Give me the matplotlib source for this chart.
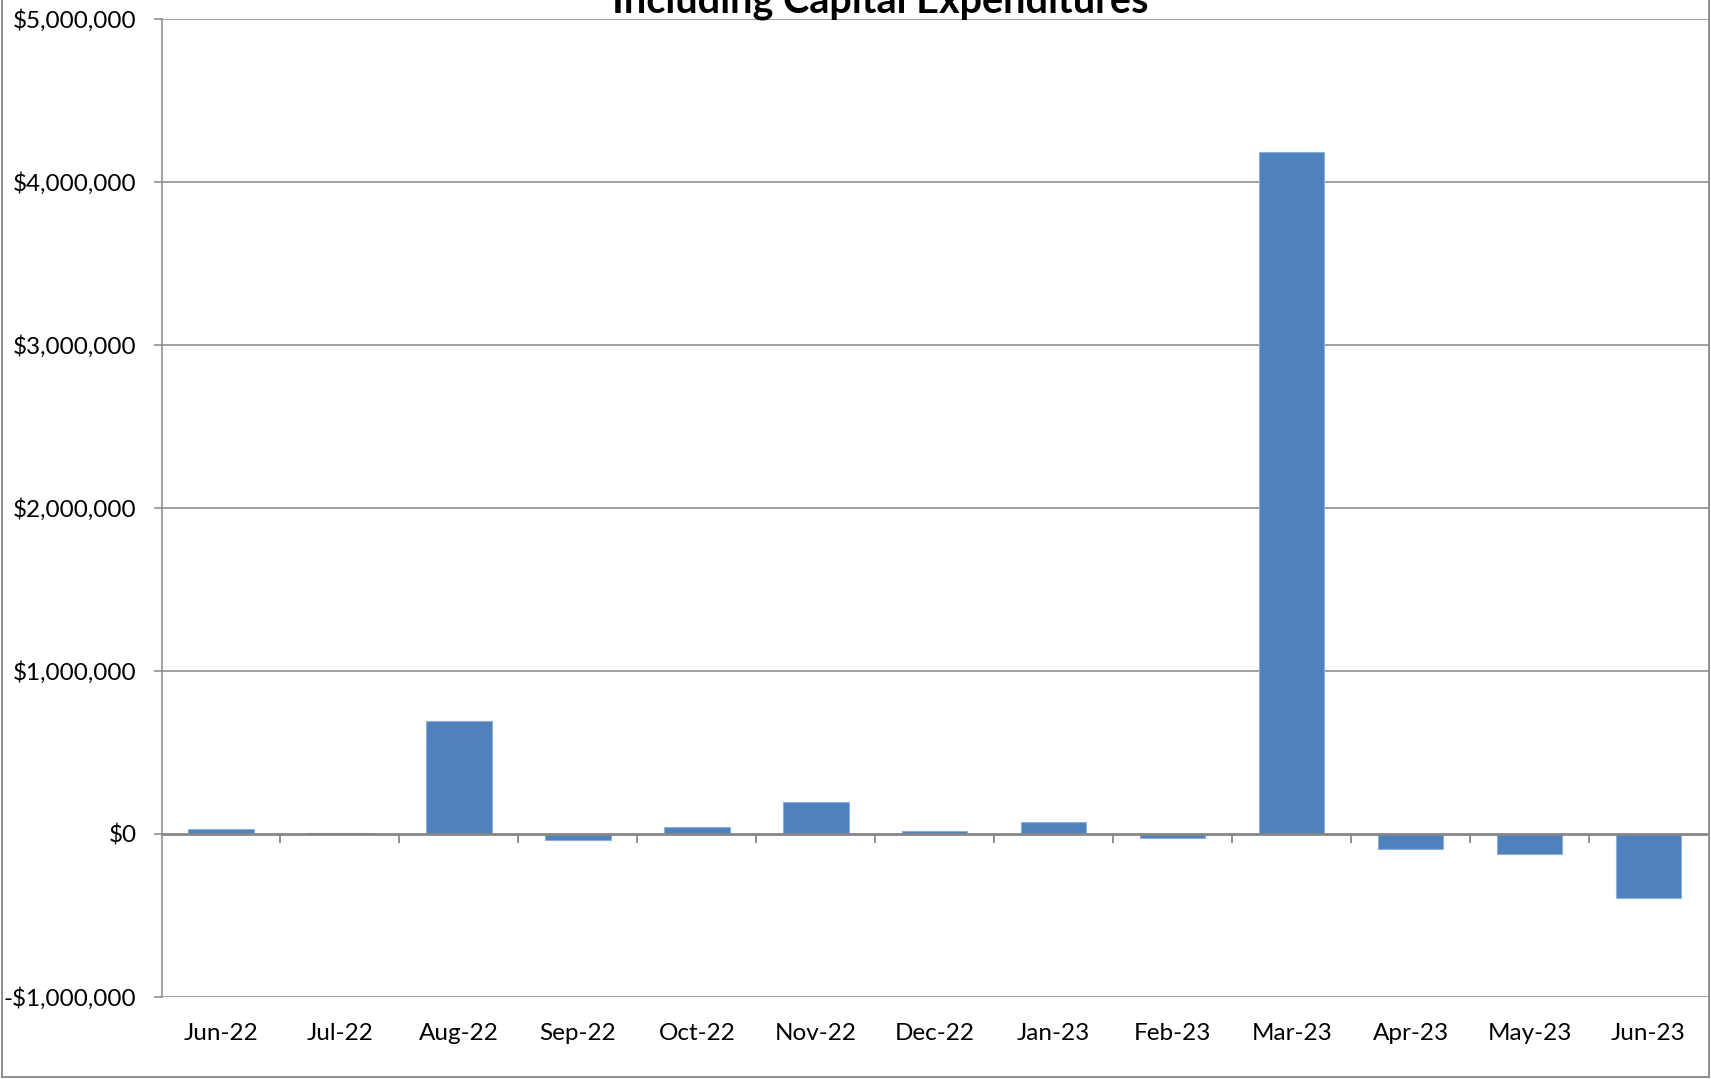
import matplotlib.pyplot as plt
from matplotlib.lines import Line2D
from matplotlib.ticker import FuncFormatter, FixedLocator

# --------------------------------------------------
# Monthly net change, including capital expenditures
# --------------------------------------------------
months = ["Jun-22", "Jul-22", "Aug-22", "Sep-22", "Oct-22", "Nov-22", "Dec-22",
          "Jan-23", "Feb-23", "Mar-23", "Apr-23", "May-23", "Jun-23"]
amounts = [30000, 5000, 690000, -35000, 40000, 197000, 15000,
           72000, -25000, 4180000, -90000, -122000, -395000]

y_ticks = [-1000000, 0, 1000000, 2000000, 3000000, 4000000, 5000000]

BAR_COLOR = "#4F81BD"
GRID_COLOR = "#868686"
FONT = ["Lato", "DejaVu Sans"]
plt.rcParams["font.family"] = FONT


def money(v, _pos=None):
    if v < 0:
        return f"-${abs(v):,.0f}"
    return f"${v:,.0f}"


W, H = 1711, 1079
fig = plt.figure(figsize=(W / 100, H / 100), dpi=100)
ax = fig.add_axes([161.5 / W, 1 - 997 / H, (1708 - 161.5) / W, (997 - 18.5) / H])

xs = list(range(len(months)))
ax.bar(xs, amounts, width=0.55, color=BAR_COLOR, edgecolor="#8DB0DA",
       linewidth=0.8, zorder=3)

ax.set_xlim(-0.5, len(months) - 0.5)
ax.set_ylim(y_ticks[0], y_ticks[-1])

# horizontal gridlines, zero line drawn heavier
ax.set_yticks(y_ticks)
ax.yaxis.set_major_formatter(FuncFormatter(money))
for v in y_ticks:
    if v != 0:
        ax.axhline(v, color=GRID_COLOR, lw=1.1, zorder=1)
ax.axhline(0, color=GRID_COLOR, lw=2.0, zorder=4)

for side in ["top", "right", "bottom"]:
    ax.spines[side].set_visible(False)
ax.spines["left"].set_color(GRID_COLOR)
ax.spines["left"].set_linewidth(1.1)
ax.tick_params(axis="y", direction="out", length=6, width=1.1, color=GRID_COLOR,
               pad=12, labelsize=17.5, labelcolor="black")

# category labels sit at the bottom of the plot area
ax.set_xticks(xs)
ax.set_xticklabels(months)
ax.tick_params(axis="x", length=0, pad=19, labelsize=17.5, labelcolor="black")

# tick marks between categories hang off the zero line
zero_axis = ax.secondary_xaxis(1 / 6)
zero_axis.spines["bottom"].set_visible(False)
zero_axis.xaxis.set_major_locator(FixedLocator([x + 0.5 for x in xs[:-1]]))
zero_axis.tick_params(axis="x", direction="out", length=6.5, width=1.3,
                      color=GRID_COLOR, labelbottom=False)

fig.text(880 / W, 1 - 12 / H, "Including Capital Expenditures", ha="center",
         va="baseline", fontsize=28.5, fontweight="bold")

# chart area border
bx0, bx1, by0 = 2 / W, 1709 / W, 2 / H
for xd, yd in [([bx0, bx0], [by0, 1.01]), ([bx1, bx1], [by0, 1.01]),
               ([bx0, bx1], [by0, by0])]:
    fig.add_artist(Line2D(xd, yd, transform=fig.transFigure, color=GRID_COLOR,
                          lw=1.3))

fig.savefig("out.png", dpi=100)
